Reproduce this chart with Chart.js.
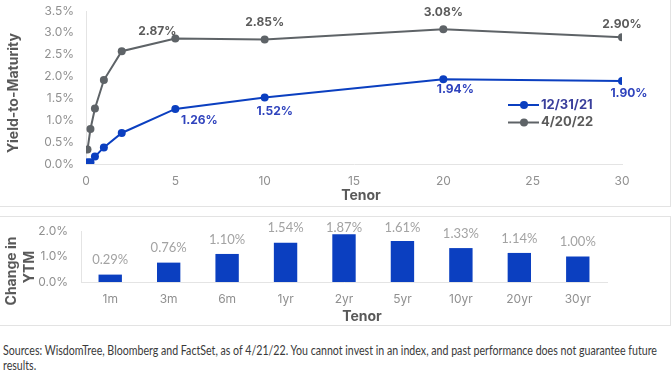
<!DOCTYPE html>
<html lang="en">
  <head>
    <meta charset="UTF-8" />
    <title>Treasury Yield Curve</title>
    <script src="https://cdn.jsdelivr.net/npm/chart.js"></script>
    <style>
      body {
        margin: 0;
        padding: 0;
        background: #fff;
        width: 672px;
        height: 375px;
        overflow: hidden;
        position: relative;
        font-family: Inter, sans-serif;
      }

      .panel {
        position: absolute;
        left: -1px;
        border: 1px solid #e3e3e3;
      }
      #top-panel { top: -1px; width: 670px; height: 206px; }
      #bottom-panel { top: 216px; width: 670px; height: 108px; }
      canvas { display: block; }

      .note {
        position: absolute;
        left: 3px;
        top: 343px;
        width: 790px;
        font-family: Lato, sans-serif;
        font-size: 12.5px;
        line-height: 15px;
        color: #3a3a3a;
        transform: scaleX(0.85);
        transform-origin: left top;
      }
    </style>
  </head>
  <body>
    <div id="top-panel" class="panel"><canvas id="curve" width="670" height="206"></canvas></div>
    <div id="bottom-panel" class="panel"><canvas id="change" width="670" height="108"></canvas></div>
    <div class="note">
      Sources: WisdomTree, Bloomberg and FactSet, as of 4/21/22. You cannot invest in an index, and past performance does not guarantee future results.
    </div>

    <script>
      // tenor in years and yield-to-maturity (%)
      const tenors = [0.083, 0.25, 0.5, 1, 2, 5, 10, 20, 30];
      const yields2021 = [0.04, 0.04, 0.17, 0.38, 0.71, 1.26, 1.52, 1.94, 1.9];
      const yields2022 = [0.33, 0.8, 1.27, 1.92, 2.58, 2.87, 2.85, 3.08, 2.9];
      const seriesNames = ["12/31/21", "4/20/22"];

      // change in YTM (%) by tenor bucket
      const tenorLabels = ["1m", "3m", "6m", "1yr", "2yr", "5yr", "10yr", "20yr", "30yr"];
      const ytmChange = [0.29, 0.76, 1.1, 1.54, 1.87, 1.61, 1.33, 1.14, 1.0];

      const firstLabeled = 5; // value labels from the 5y point on

      const BLUE = "#0b3fc0";
      const GRAY = "#5e6367";
      const TICK = "#909090";
      const TITLE = "#595959";
      const AXIS = "#e4e4e4";

      // label offsets from each point (dx, dy), per dataset
      const labelShift = [
        [[24, 11], [10, 14], [12, 10], [7, 12]],
        [[-18, -7], [0, -17], [0, -17], [0, -13]],
      ];

      const tickFont = { family: "Inter", size: 12 };

      // y axis: fixed width, and no extra top padding so layout padding decides the top
      function fixY(width) {
        return (s) => {
          s.width = width;
          s.paddingTop = 0;
        };
      }

      // draws text titles at fixed spots
      const axisTitles = {
        id: "axisTitles",
        afterDraw(chart, args, opts) {
          const ctx = chart.ctx;
          ctx.save();
          ctx.fillStyle = TITLE;
          ctx.font = "bold 14px Inter";
          ctx.textAlign = "center";
          ctx.textBaseline = "middle";
          opts.items.forEach((t) => {
            ctx.save();
            ctx.translate(t.x, t.y);
            if (t.rotate) ctx.rotate(-Math.PI / 2);
            ctx.fillText(t.text, 0, 0);
            ctx.restore();
          });
          ctx.restore();
        },
      };

      const pointLabels = {
        id: "pointLabels",
        afterDatasetsDraw(chart) {
          const ctx = chart.ctx;
          ctx.save();
          ctx.font = "bold 12px Inter";
          ctx.textAlign = "center";
          ctx.textBaseline = "middle";
          chart.data.datasets.forEach((ds, d) => {
            const meta = chart.getDatasetMeta(d);
            ctx.fillStyle = d === 0 ? "#2f43bd" : "#5b5b5b";
            ds.data.forEach((p, i) => {
              if (i < firstLabeled) return;
              const el = meta.data[i];
              const s = labelShift[d][i - firstLabeled];
              ctx.fillText(p.y.toFixed(2) + "%", el.x + s[0], el.y + s[1]);
            });
          });
          ctx.restore();
        },
      };

      const curveLegend = {
        id: "curveLegend",
        afterDraw(chart) {
          const ctx = chart.ctx;
          ctx.save();
          ctx.font = "bold 13px Inter";
          ctx.textBaseline = "middle";
          chart.data.datasets.forEach((ds, d) => {
            const x = 508;
            const y = 105 + d * 17.5;
            ctx.strokeStyle = ds.borderColor;
            ctx.fillStyle = ds.borderColor;
            ctx.lineWidth = 2;
            ctx.beginPath();
            ctx.moveTo(x, y);
            ctx.lineTo(x + 31, y);
            ctx.stroke();
            ctx.beginPath();
            ctx.arc(x + 16, y, 4, 0, Math.PI * 2);
            ctx.fill();
            ctx.fillStyle = d === 0 ? "#3a3f9c" : "#5b5b5b";
            ctx.fillText(ds.label, x + 33, y);
          });
          ctx.restore();
        },
      };

      function lineSet(label, values, color) {
        return {
          label: label,
          data: tenors.map((t, i) => ({ x: t, y: values[i] })),
          borderColor: color,
          backgroundColor: color,
          pointBackgroundColor: color,
          pointBorderWidth: 0,
          pointRadius: 4,
          borderWidth: 2,
          tension: 0,
        };
      }

      new Chart(document.getElementById("curve"), {
        type: "line",
        data: {
          datasets: [
            lineSet(seriesNames[0], yields2021, BLUE),
            lineSet(seriesNames[1], yields2022, GRAY),
          ],
        },
        options: {
          responsive: false,
          animation: false,
          layout: { padding: { top: 11, right: 48, bottom: 0, left: 0 } },
          scales: {
            x: {
              type: "linear",
              min: 0,
              max: 30,
              ticks: { stepSize: 5, color: TICK, font: tickFont, padding: 10 },
              grid: { display: false, drawTicks: false },
              border: { color: AXIS },
              afterFit: (s) => { s.height = 42; },
            },
            y: {
              min: 0,
              max: 3.5,
              ticks: {
                stepSize: 0.5,
                color: TICK,
                font: tickFont,
                padding: 12,
                callback: (v) => v.toFixed(1) + "%",
              },
              grid: { display: false, drawTicks: false },
              border: { color: AXIS },
              afterFit: fixY(86),
            },
          },
          plugins: {
            legend: { display: false },
            tooltip: { enabled: false },
            axisTitles: {
              items: [
                { text: "Yield-to-Maturity", x: 14, y: 93, rotate: true },
                { text: "Tenor", x: 361, y: 196 },
              ],
            },
          },
        },
        plugins: [pointLabels, curveLegend, axisTitles],
      });

      const barLabels = {
        id: "barLabels",
        afterDatasetsDraw(chart) {
          const ctx = chart.ctx;
          const meta = chart.getDatasetMeta(0);
          ctx.save();
          ctx.font = "13px Lato";
          ctx.fillStyle = "#a3a3a3";
          ctx.textAlign = "center";
          ctx.textBaseline = "middle";
          meta.data.forEach((bar, i) => {
            const y = Math.max(bar.y - 14.5, chart.chartArea.top - 3.5);
            ctx.fillText(ytmChange[i].toFixed(2) + "%", bar.x, y);
          });
          ctx.restore();
        },
      };

      new Chart(document.getElementById("change"), {
        type: "bar",
        data: {
          labels: tenorLabels,
          datasets: [
            {
              data: ytmChange,
              backgroundColor: BLUE,
              barPercentage: 0.4,
              categoryPercentage: 1,
            },
          ],
        },
        options: {
          responsive: false,
          animation: false,
          layout: { padding: { top: 14, right: 63, bottom: 0, left: 0 } },
          scales: {
            x: {
              ticks: { color: TICK, font: tickFont, padding: 10 },
              grid: { display: false, drawTicks: false },
              border: { color: AXIS },
              afterFit: (s) => { s.height = 43; },
            },
            y: {
              min: 0,
              max: 2,
              ticks: {
                stepSize: 1,
                color: TICK,
                font: tickFont,
                padding: 13,
                callback: (v) => v.toFixed(1) + "%",
              },
              grid: { display: false, drawTicks: false },
              border: { color: AXIS },
              afterFit: fixY(81),
            },
          },
          plugins: {
            legend: { display: false },
            tooltip: { enabled: false },
            axisTitles: {
              items: [
                { text: "Change in", x: 12, y: 54, rotate: true },
                { text: "YTM", x: 30, y: 50, rotate: true },
                { text: "Tenor", x: 362, y: 100 },
              ],
            },
          },
        },
        plugins: [barLabels, axisTitles],
      });
    </script>
  </body>
</html>
